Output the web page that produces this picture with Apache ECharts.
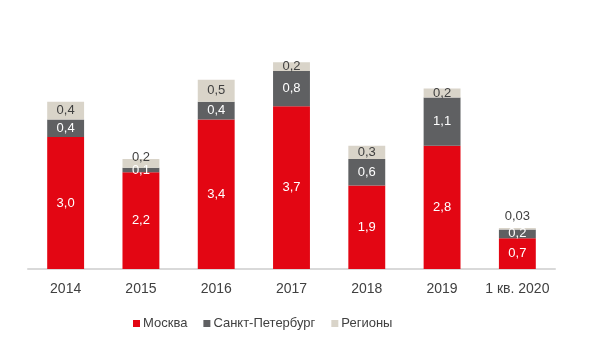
<!DOCTYPE html>
<html>
<head>
<meta charset="utf-8">
<script src="https://cdn.jsdelivr.net/npm/echarts@6/dist/echarts.min.js"></script>
<style>
  html, body { margin: 0; padding: 0; background: #fff; }
  #chart { width: 600px; height: 341px; }
</style>
</head>
<body>
<div id="chart"></div>
<script>
// Categories and stacked values (млн кв. м)
const categories = ['2014', '2015', '2016', '2017', '2018', '2019', '1 кв. 2020'];
const moscow = [3.0, 2.2, 3.4, 3.7, 1.9, 2.8, 0.7];
const spb = [0.4, 0.1, 0.4, 0.8, 0.6, 1.1, 0.2];
const regions = [0.4, 0.2, 0.5, 0.2, 0.3, 0.2, 0.03];
const seriesNames = ['Москва', 'Санкт-Петербург', 'Регионы'];

const FONT = '"Liberation Sans", Arial, sans-serif';

function fmt(v) {
  const s = v < 0.1 ? v.toFixed(2) : v.toFixed(1);
  return s.replace('.', ',');
}

const labelBase = {
  show: true,
  position: 'inside',
  fontFamily: FONT,
  fontSize: 13,
  formatter: p => fmt(p.value)
};

// Small top segments get their label lifted above the bar
const regionData = regions.map((v, i) => {
  if (i === 6) return { value: v, label: { position: 'top', distance: 5 } };
  if (i === 1) return { value: v, label: { position: 'top', distance: -5 } };
  return v;
});

const chart = echarts.init(document.getElementById('chart'), null, { renderer: 'canvas' });
chart.setOption({
  animation: false,
  backgroundColor: '#ffffff',
  grid: { left: 28, right: 45, top: 5, bottom: 72, containLabel: false },
  legend: {
    bottom: 6,
    left: 128,
    itemWidth: 7,
    itemHeight: 7,
    itemGap: 16,
    icon: 'rect',
    textStyle: { fontFamily: FONT, fontSize: 13, color: '#404040', padding: [0, 0, 0, -2] },
    data: seriesNames
  },
  xAxis: {
    type: 'category',
    data: categories,
    axisLine: { lineStyle: { color: '#d9d9d9', width: 2 } },
    axisTick: { show: false },
    axisLabel: { interval: 0, fontFamily: FONT, fontSize: 14, color: '#404040', margin: 13 }
  },
  yAxis: {
    type: 'value',
    min: 0,
    max: 6,
    show: false,
    splitLine: { show: false }
  },
  series: [
    {
      name: seriesNames[0], type: 'bar', stack: 'total', barWidth: '49%',
      itemStyle: { color: '#e30613' },
      label: Object.assign({}, labelBase, { color: '#ffffff' }),
      data: moscow
    },
    {
      name: seriesNames[1], type: 'bar', stack: 'total',
      itemStyle: { color: '#5f6062' },
      label: Object.assign({}, labelBase, { color: '#ffffff' }),
      data: spb
    },
    {
      name: seriesNames[2], type: 'bar', stack: 'total',
      itemStyle: { color: '#d9d4c9' },
      label: Object.assign({}, labelBase, { color: '#404040' }),
      data: regionData
    }
  ]
});
</script>
</body>
</html>
